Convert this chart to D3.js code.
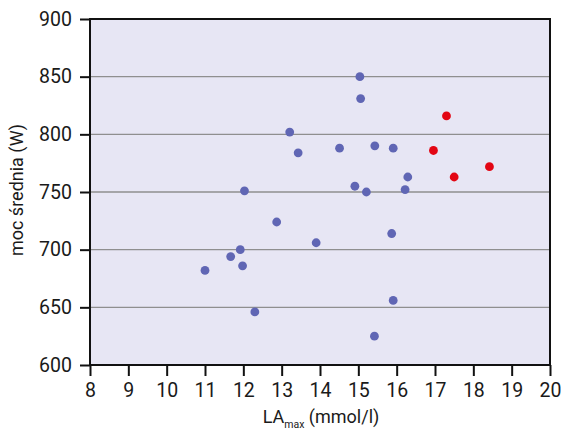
<!DOCTYPE html>
<html>
<head>
<meta charset="utf-8">
<script src="https://cdn.jsdelivr.net/npm/d3@7/dist/d3.min.js"></script>
<style>
  body { margin: 0; background: #fff; }
  svg text { font-family: Roboto, "Liberation Sans", sans-serif; fill: #1a1a1a; }
</style>
</head>
<body>
<svg id="chart" width="562" height="431"></svg>
<script>
// LA max (mmol/l) vs mean power (W)
const groupA_la = [15.04, 15.06, 13.21, 13.43, 14.51, 15.43, 15.91, 16.29, 14.91, 15.21, 16.22,
                   12.03, 12.87, 13.90, 15.87, 11.92, 11.67, 11.98, 11.00, 15.91, 12.30, 15.42];
const groupA_power = [850, 831, 802, 784, 788, 790, 788, 763, 755, 750, 752,
                      751, 724, 706, 714, 700, 694, 686, 682, 656, 646, 625];
const groupB_la = [17.30, 16.96, 17.50, 18.42];
const groupB_power = [816, 786, 763, 772];
const xTicks = [8, 9, 10, 11, 12, 13, 14, 15, 16, 17, 18, 19, 20];
const yTicks = [600, 650, 700, 750, 800, 850, 900];

const svg = d3.select("#chart");
const plotL = 90, plotR = 550, plotT = 19, plotB = 365;

const x = d3.scaleLinear().domain([8, 20]).range([plotL, plotR]);
const y = d3.scaleLinear().domain([600, 900]).range([plotB, plotT]);

// plot background
svg.append("rect")
  .attr("x", plotL).attr("y", plotT)
  .attr("width", plotR - plotL).attr("height", plotB - plotT)
  .attr("fill", "#e7e6f4");

// horizontal gridlines
svg.append("g").selectAll("line")
  .data(yTicks.filter(v => v > 600 && v < 900))
  .join("line")
  .attr("x1", plotL).attr("x2", plotR)
  .attr("y1", d => y(d)).attr("y2", d => y(d))
  .attr("stroke", "#8f8f8f").attr("stroke-width", 1.4);

// frame
svg.append("rect")
  .attr("x", plotL).attr("y", plotT)
  .attr("width", plotR - plotL).attr("height", plotB - plotT)
  .attr("fill", "none").attr("stroke", "#111").attr("stroke-width", 2);

// axes
const xAxis = d3.axisBottom(x).tickValues(xTicks).tickSize(11).tickPadding(7).tickFormat(d3.format("d"));
const yAxis = d3.axisLeft(y).tickValues(yTicks).tickSize(10).tickPadding(8).tickFormat(d3.format("d"));

const gx = svg.append("g").attr("transform", `translate(0,${plotB})`).call(xAxis);
const gy = svg.append("g").attr("transform", `translate(${plotL},0)`).call(yAxis);
[gx, gy].forEach(g => {
  g.select(".domain").remove();
  g.selectAll(".tick line").attr("stroke", "#111").attr("stroke-width", 2);
  g.selectAll(".tick text").attr("font-size", 19.5).attr("fill", "#1a1a1a")
    .style("font-family", "Roboto, 'Liberation Sans', sans-serif");
});

// points
const ptsA = groupA_la.map((v, i) => ({ la: v, p: groupA_power[i] }));
const ptsB = groupB_la.map((v, i) => ({ la: v, p: groupB_power[i] }));

svg.append("g").selectAll("circle").data(ptsA).join("circle")
  .attr("cx", d => x(d.la)).attr("cy", d => y(d.p)).attr("r", 4.4)
  .attr("fill", "#6066b4");

svg.append("g").selectAll("circle").data(ptsB).join("circle")
  .attr("cx", d => x(d.la)).attr("cy", d => y(d.p)).attr("r", 4.4)
  .attr("fill", "#e30613");

// axis titles
const xt = svg.append("text")
  .attr("x", 321).attr("y", 423)
  .attr("text-anchor", "middle")
  .attr("font-size", 18);
xt.append("tspan").text("LA");
xt.append("tspan").attr("font-size", 10.5).attr("dy", 5).text("max");
xt.append("tspan").attr("dy", -5).text(" (mmol/l)");

svg.append("text")
  .attr("transform", "translate(23,190) rotate(-90)")
  .attr("text-anchor", "middle")
  .attr("font-size", 18)
  .text("moc średnia (W)");
</script>
</body>
</html>
